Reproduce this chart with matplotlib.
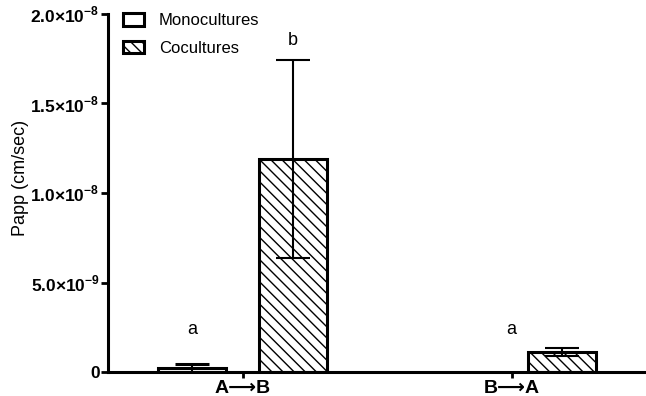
import matplotlib
matplotlib.use("Agg")
import matplotlib.pyplot as plt
import numpy as np
from matplotlib.patches import Patch

# Data
directions = ["A\u27f6B", "B\u27f6A"]
mono_mean = [0.2e-9, 0.0]
mono_err = [0.26e-9, 0.0]
co_mean = [11.9e-9, 1.12e-9]
co_err = [5.55e-9, 0.22e-9]
letters_mono = ["a", ""]
letters_co = ["b", ""]
letters_group = ["", "a"]

y_ticks = [0, 5e-9, 1e-8, 1.5e-8, 2e-8]
y_tick_labels = ["0", r"5.0$\times$10$^{\mathbf{-9}}$", r"1.0$\times$10$^{\mathbf{-8}}$",
                 r"1.5$\times$10$^{\mathbf{-8}}$", r"2.0$\times$10$^{\mathbf{-8}}$"]

plt.rcParams["font.family"] = ["Liberation Sans", "DejaVu Sans"]
plt.rcParams["mathtext.fontset"] = "custom"
plt.rcParams["mathtext.rm"] = "Liberation Sans:bold"
plt.rcParams["mathtext.bf"] = "Liberation Sans:bold"
plt.rcParams["hatch.linewidth"] = 1.0

fig = plt.figure(figsize=(6.46, 3.96), dpi=100)
ax = fig.add_axes([108 / 646, 24 / 396, 538 / 646, 358 / 396])

x = np.arange(len(directions))
width = 0.253
offset = 0.186

mono_lw = [2.2 if v > 0 else 0 for v in mono_mean]
ax.bar(x - offset, mono_mean, width, color="white", edgecolor="black", linewidth=mono_lw, zorder=2)
ax.bar(x + offset, co_mean, width, color="white", edgecolor="black", linewidth=2.2,
       hatch="\\\\\\", zorder=2)
ax.errorbar(x[:1] - offset, mono_mean[:1], yerr=mono_err[:1], fmt="none", ecolor="black",
            elinewidth=1.5, capsize=12, capthick=2.2, zorder=3)
ax.errorbar(x + offset, co_mean, yerr=co_err, fmt="none", ecolor="black",
            elinewidth=1.5, capsize=12, capthick=1.5, zorder=3)

for i in range(len(directions)):
    if letters_mono[i]:
        ax.text(x[i] - offset, 1.9e-9, letters_mono[i], ha="center", va="bottom", fontsize=13)
    if letters_co[i]:
        ax.text(x[i] + offset, co_mean[i] + co_err[i] + 0.62e-9, letters_co[i],
                ha="center", va="bottom", fontsize=13)
    if letters_group[i]:
        ax.text(x[i], 1.9e-9, letters_group[i], ha="center", va="bottom", fontsize=13)

ax.set_xlim(-0.5, 1.5)
ax.set_ylim(0, 2e-8)
ax.set_xticks(x)
ax.set_xticklabels(directions, fontsize=14, fontweight="bold")
ax.set_yticks(y_ticks)
ax.set_yticklabels(y_tick_labels, fontsize=12.5, fontweight="bold")
ax.set_ylabel("Papp (cm/sec)", fontsize=13)
ax.yaxis.set_label_coords(-0.147, 0.542)

for side in ["top", "right"]:
    ax.spines[side].set_visible(False)
for side in ["left", "bottom"]:
    ax.spines[side].set_linewidth(2.2)
ax.tick_params(axis="y", length=5, width=2, pad=1)
ax.tick_params(axis="x", length=4, width=2, pad=2)

handles = [
    Patch(facecolor="white", edgecolor="black", linewidth=2.2),
    Patch(facecolor="white", edgecolor="black", linewidth=2.2, hatch="\\\\\\"),
]
ax.legend(handles, ["Monocultures", "Cocultures"], loc="upper left",
          bbox_to_anchor=(0.0, 1.045), frameon=False, fontsize=12,
          handlelength=1.25, handleheight=0.8, labelspacing=0.75, handletextpad=0.9)

fig.savefig("out.png", dpi=100)
